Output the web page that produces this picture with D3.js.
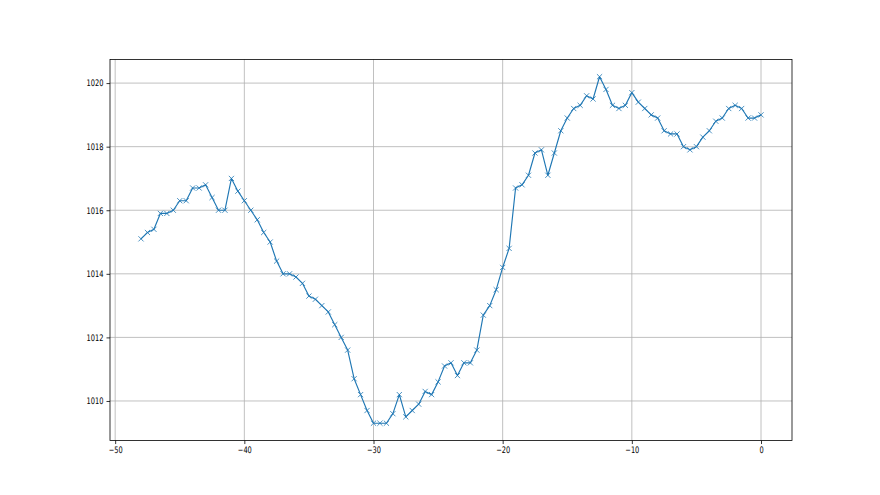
<!DOCTYPE html>
<html>
<head>
<meta charset="utf-8">
<script src="https://cdn.jsdelivr.net/npm/d3@7"></script>
<style>
html,body{margin:0;padding:0;background:#fff;}
svg{display:block;}
text{font-family:"DejaVu Sans",sans-serif;font-size:9px;fill:#000;}
</style>
</head>
<body>
<svg id="chart" width="880" height="495"></svg>
<script>
const xValues = d3.range(97).map(i => -48 + i * 0.5);
const pressure = [
 1015.1,1015.3,1015.4,1015.9,1015.9,1016.0,1016.3,1016.3,1016.7,1016.7,
 1016.8,1016.4,1016.0,1016.0,1017.0,1016.6,1016.3,1016.0,1015.7,1015.3,
 1015.0,1014.4,1014.0,1014.0,1013.9,1013.7,1013.3,1013.2,1013.0,1012.8,
 1012.4,1012.0,1011.6,1010.7,1010.2,1009.7,1009.3,1009.3,1009.3,1009.6,
 1010.2,1009.5,1009.7,1009.9,1010.3,1010.2,1010.6,1011.1,1011.2,1010.8,
 1011.2,1011.2,1011.6,1012.7,1013.0,1013.5,1014.2,1014.8,1016.7,1016.8,
 1017.1,1017.8,1017.9,1017.1,1017.8,1018.5,1018.9,1019.2,1019.3,1019.6,
 1019.5,1020.2,1019.8,1019.3,1019.2,1019.3,1019.7,1019.4,1019.2,1019.0,
 1018.9,1018.5,1018.4,1018.4,1018.0,1017.9,1018.0,1018.3,1018.5,1018.8,
 1018.9,1019.2,1019.3,1019.2,1018.9,1018.9,1019.0
];
const xTicks = [-50, -40, -30, -20, -10, 0];
const yTicks = [1010, 1012, 1014, 1016, 1018, 1020];

const data = xValues.map((x, i) => ({x, y: pressure[i]}));

const L = 110, R = 792, T = 59.4, B = 440.55;
const svg = d3.select("#chart");

const xmin = d3.min(xValues), xmax = d3.max(xValues);
const ymin = d3.min(pressure), ymax = d3.max(pressure);
const xm = (xmax - xmin) * 0.05, ym = (ymax - ymin) * 0.05;
const x = d3.scaleLinear().domain([xmin - xm, xmax + xm]).range([L, R]);
const y = d3.scaleLinear().domain([ymin - ym, ymax + ym]).range([B, T]);

const fmt = d => String(d).replace("-", "\u2212");
const SX = 0.74;

// grid
const grid = svg.append("g");
grid.selectAll(".gx").data(xTicks).enter().append("line")
  .attr("x1", d => x(d)).attr("x2", d => x(d)).attr("y1", T).attr("y2", B)
  .attr("stroke", "#b0b0b0").attr("stroke-width", 0.8);
grid.selectAll(".gy").data(yTicks).enter().append("line")
  .attr("x1", L).attr("x2", R).attr("y1", d => y(d)).attr("y2", d => y(d))
  .attr("stroke", "#b0b0b0").attr("stroke-width", 0.8);

// line
const line = d3.line().x(d => x(d.x)).y(d => y(d.y));
svg.append("path").datum(data).attr("d", line)
  .attr("fill", "none").attr("stroke", "#1f77b4").attr("stroke-width", 1.15)
  .attr("stroke-linejoin", "round").attr("stroke-linecap", "butt");

// markers 'x'
const ms = 2.6;
svg.append("g").selectAll("path").data(data).enter().append("path")
  .attr("d", d => {
    const cx = x(d.x), cy = y(d.y);
    return `M${cx-ms},${cy-ms}L${cx+ms},${cy+ms}M${cx-ms},${cy+ms}L${cx+ms},${cy-ms}`;
  })
  .attr("stroke", "#1f77b4").attr("stroke-width", 0.8).attr("fill", "none");

// axes
const xAxis = d3.axisBottom(x).tickValues(xTicks).tickFormat(fmt).tickSize(3.5).tickPadding(2.5);
const yAxis = d3.axisLeft(y).tickValues(yTicks).tickFormat(fmt).tickSize(3.5).tickPadding(3);
const gx = svg.append("g").attr("transform", `translate(0,${B})`).call(xAxis);
const gy = svg.append("g").attr("transform", `translate(${L},0)`).call(yAxis);
[gx, gy].forEach(g => {
  g.select(".domain").remove();
  g.selectAll(".tick line").attr("stroke", "#000").attr("stroke-width", 0.8);
  g.selectAll(".tick text").style("font-family", "DejaVu Sans").style("font-size", "9px").attr("fill", "#222");
});
gx.selectAll(".tick text").attr("transform", `scale(${SX},1)`);
gy.selectAll(".tick text").each(function() {
  const t = d3.select(this);
  const tx = +t.attr("x");
  t.attr("x", 0).attr("transform", `translate(${tx},0) scale(${SX},1)`);
});

// spines
svg.append("rect").attr("x", L).attr("y", T).attr("width", R - L).attr("height", B - T)
  .attr("fill", "none").attr("stroke", "#000").attr("stroke-width", 0.8);
</script>
</body>
</html>
